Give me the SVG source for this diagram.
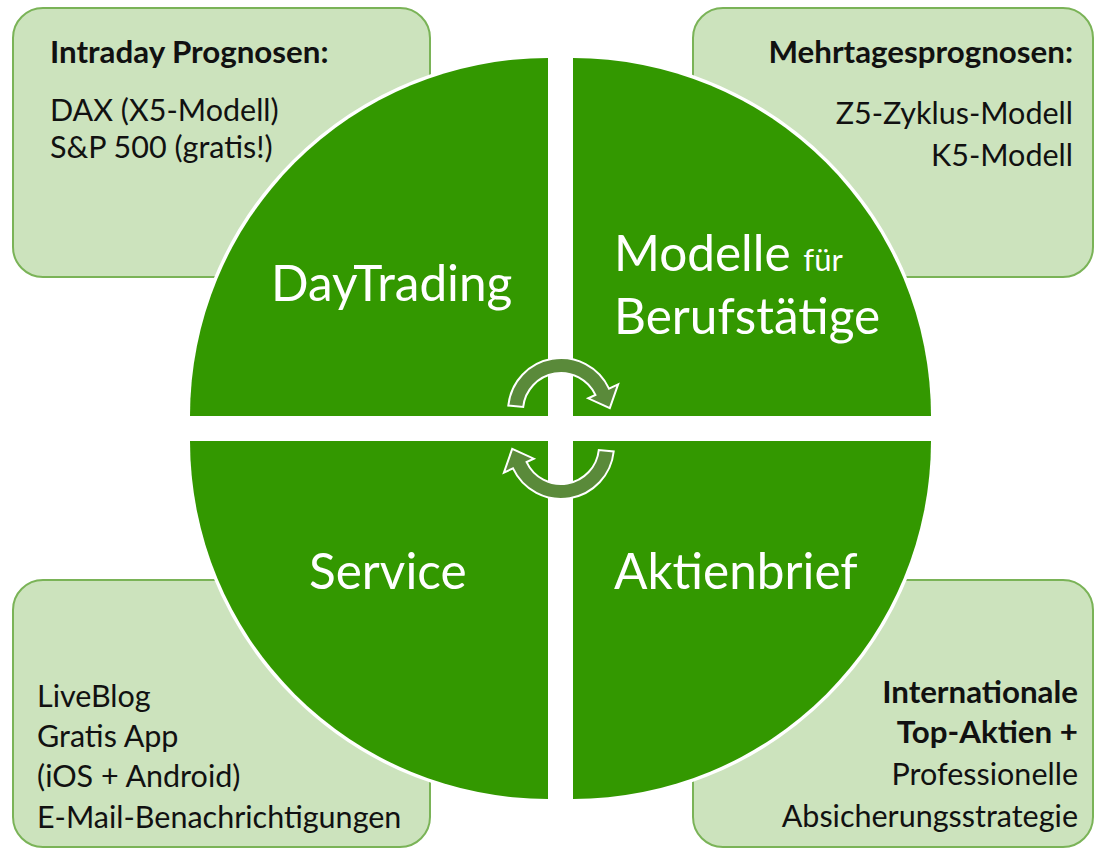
<svg xmlns="http://www.w3.org/2000/svg" width="1095" height="848" viewBox="0 0 1095 848">
<style>
.box{fill:#cce3bd;stroke:#7ab357;stroke-width:2}
.quad{fill:#339800;stroke:#ffffff;stroke-width:7;paint-order:stroke}
.arrow{fill:#5a8a3a;stroke:#ffffff;stroke-width:2;stroke-linejoin:miter}
.t{font-family:Lato,"Liberation Sans",sans-serif;font-size:30.5px;fill:#111111}
.b{font-weight:bold;font-size:31.3px}
.e{text-anchor:end}
.q{font-family:Lato,"Liberation Sans",sans-serif;font-size:49.5px;fill:#ffffff}
</style>
<rect width="1095" height="848" fill="#ffffff"/>
<g id="box-intraday">
<rect class="box" x="13" y="8" width="417" height="269" rx="30"/>
<text class="t b" x="50" y="63">Intraday Prognosen:</text>
<text class="t" x="50" y="121">DAX (X5-Modell)</text>
<text class="t" x="50" y="158">S&amp;P 500 (gratis!)</text>
</g>
<g id="box-mehrtages">
<rect class="box" x="693" y="8" width="400" height="269" rx="30"/>
<text class="t b e" x="1073" y="63">Mehrtagesprognosen:</text>
<text class="t e" x="1073" y="124">Z5-Zyklus-Modell</text>
<text class="t e" x="1073" y="166">K5-Modell</text>
</g>
<g id="box-service">
<rect class="box" x="13" y="580" width="417" height="267" rx="30"/>
<text class="t" x="37" y="707">LiveBlog</text>
<text class="t" x="37" y="747">Gratis App</text>
<text class="t" x="37" y="787">(iOS + Android)</text>
<text class="t" x="37" y="828">E-Mail-Benachrichtigungen</text>
</g>
<g id="box-aktienbrief">
<rect class="box" x="693" y="580" width="400" height="267" rx="30"/>
<text class="t b e" x="1078" y="703">Internationale</text>
<text class="t b e" x="1078" y="743">Top-Aktien +</text>
<text class="t e" x="1078" y="785">Professionelle</text>
<text class="t e" x="1078" y="827">Absicherungsstrategie</text>
</g>
<g id="quad-daytrading">
<path class="quad" d="M548,416 L190,416 A358,358 0 0 1 548,58 Z"/>
<text class="q" x="271" y="301">DayTrading</text>
</g>
<g id="quad-modelle">
<path class="quad" d="M573,416 L573,58 A358,358 0 0 1 931,416 Z"/>
<text class="q" x="614" y="271">Modelle <tspan font-size="31">für</tspan></text>
<text class="q" x="614" y="334">Berufstätige</text>
</g>
<g id="quad-service">
<path class="quad" d="M548,441 L548,799 A358,358 0 0 1 190,441 Z"/>
<text class="q" x="309" y="589">Service</text>
</g>
<g id="quad-aktienbrief">
<path class="quad" d="M573,441 L931,441 A358,358 0 0 1 573,799 Z"/>
<text class="q" x="614" y="589">Aktienbrief</text>
</g>
<g id="connectors">
<path id="arrow-top" class="arrow" d="M508.3,405.5 A53,53 0 0 1 609,388.6 L618.1,384.4 L609.8,408.1 L588.2,398.3 L595.4,394.9 A38,38 0 0 0 523.2,407 Z"/>
<path id="arrow-bottom" class="arrow" transform="rotate(180 561 428.5)" d="M508.3,405.5 A53,53 0 0 1 609,388.6 L618.1,384.4 L609.8,408.1 L588.2,398.3 L595.4,394.9 A38,38 0 0 0 523.2,407 Z"/>
</g>
</svg>
